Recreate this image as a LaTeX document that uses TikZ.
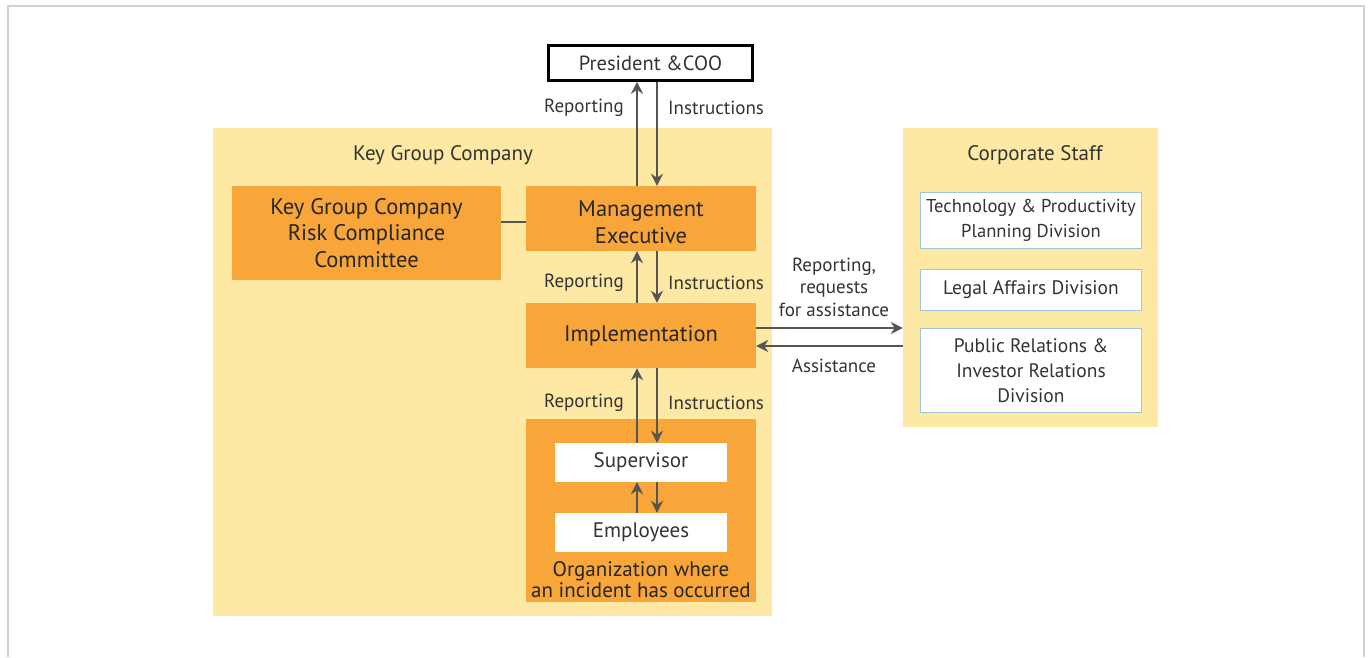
\documentclass[tikz,border=0pt]{standalone}
\usepackage{fontspec}
\setmainfont{PT Sans}
\usetikzlibrary{arrows.meta,positioning}
\definecolor{paleyellow}{HTML}{FDE8A4}
\definecolor{amber}{HTML}{F8A53A}
\definecolor{arrowgrey}{HTML}{555555}
\definecolor{textgrey}{HTML}{333333}
\definecolor{edgeblue}{HTML}{9CC6DC}
\definecolor{framegrey}{HTML}{D2D2D2}
\tikzset{
  >={Stealth[length=12pt,width=12pt]},
  % bereiche
  area/.style={fill=paleyellow,draw=none,inner sep=0pt},
  areatitle/.style={font=\fontsize{21}{24}\selectfont,text=textgrey,inner sep=0pt},
  % kaesten
  topbox/.style={fill=white,draw=black,line width=2.6pt,inner sep=0pt,
                 font=\fontsize{20.5}{24}\selectfont,text=textgrey},
  obox/.style={fill=amber,draw=none,align=center,inner sep=0pt,
               font=\fontsize{22.5}{26.5}\selectfont,text=black!85},
  wbox/.style={fill=white,draw=none,inner sep=0pt,
               font=\fontsize{21}{24}\selectfont,text=textgrey},
  dbox/.style={fill=white,draw=edgeblue,line width=1.2pt,align=center,inner sep=0pt,
               font=\fontsize{19.5}{25}\selectfont,text=textgrey},
  % pfeile
  arr/.style={->,draw=arrowgrey,line width=2pt},
  link/.style={draw=arrowgrey,line width=1.5pt},
  lbl/.style={font=\fontsize{19}{22.5}\selectfont,text=textgrey,inner sep=0pt,align=center},
}
\begin{document}
\begin{tikzpicture}[x=1pt,y=-1pt]
\useasboundingbox (0,0) rectangle (1368,657);
  \draw[framegrey,line width=1.5pt] (8,657) |- (1364,6) -- (1364,657);
  % bereiche
  \node[area,minimum width=559,minimum height=488] (kgc) at (492.5,372) {};
  \node[area,minimum width=255,minimum height=299] (cs) at (1030.5,277.5) {};
  \node[areatitle] (kgct) at (443,155) {Key Group Company};
  \node[areatitle] (cst) at (1035,155) {Corporate Staff};
  % kaesten
  \node[topbox,minimum width=204,minimum height=35] (pres) at (650.5,63) {President \&COO};
  \node[obox,minimum width=269,minimum height=94] (rcc) at (366.5,233)
    {Key Group Company\\Risk Compliance\\Committee};
  \node[obox,minimum width=230,minimum height=65] (mgmt) at (641,218.5) {};
  \node[obox,fill=none] (mgmtt) at (641,222.5) {Management\\Executive};
  \node[obox,minimum width=230,minimum height=65] (impl) at (641,335.5) {Implementation};
  \node[obox,minimum width=230,minimum height=183] (org) at (641,510.5) {};
  \node[wbox,minimum width=172,minimum height=39] (sup) at (641,462.5) {Supervisor};
  \node[wbox,minimum width=172,minimum height=39] (emp) at (641,532.5) {Employees};
  \node[lbl,font=\fontsize{21}{21}\selectfont,text=black!85] (orgt) at (641,580)
    {Organization where\\an incident has occurred};
  \node[dbox,font=\fontsize{18.6}{25}\selectfont,minimum width=221,minimum height=56] (tech)
    at (1031,220.5) {Technology \& Productivity\\Planning Division};
  \node[dbox,minimum width=221,minimum height=41] (legal) at (1031,290) {Legal Affairs Division};
  \node[dbox,minimum width=221,minimum height=84] (pr) at (1031,370.5)
    {Public Relations \&\\Investor Relations\\Division};
  % pfeile
  \coordinate (rx) at (637,0);
  \coordinate (ix) at (657,0);
  \coordinate (ly) at (0,222);
  \coordinate (ry) at (0,328);
  \coordinate (ay) at (0,346);
  \draw[link] (rcc.east |- ly) -- (mgmt.west |- ly);
  \draw[arr] (mgmt.north -| rx) -- (pres.south -| rx);
  \draw[arr] (pres.south -| ix) -- (mgmt.north -| ix);
  \draw[arr] (impl.north -| rx) -- (mgmt.south -| rx);
  \draw[arr] (mgmt.south -| ix) -- (impl.north -| ix);
  \draw[arr] (sup.north -| rx) -- (impl.south -| rx);
  \draw[arr] (impl.south -| ix) -- (sup.north -| ix);
  \draw[arr] (emp.north -| rx) -- (sup.south -| rx);
  \draw[arr] (sup.south -| ix) -- (emp.north -| ix);
  \draw[arr] (impl.east |- ry) -- (cs.west |- ry);
  \draw[arr] (cs.west |- ay) -- (impl.east |- ay);
  % beschriftungen
  \node[lbl,anchor=east] (rep1) at (624,108) {Reporting};
  \node[lbl,anchor=west] (ins1) at (668,108) {Instructions};
  \node[lbl,anchor=east] (rep2) at (624,283) {Reporting};
  \node[lbl,anchor=west] (ins2) at (668,283) {Instructions};
  \node[lbl,anchor=east] (rep3) at (624,403) {Reporting};
  \node[lbl,anchor=west] (ins3) at (668,403) {Instructions};
  \node[lbl] (req) at (834,287) {Reporting,\\requests\\for assistance};
  \node[lbl] (ast) at (834,366) {Assistance};
\end{tikzpicture}
\end{document}
